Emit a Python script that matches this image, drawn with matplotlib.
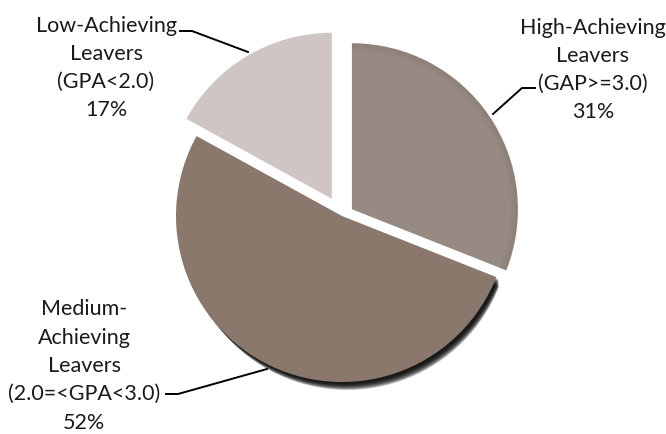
import matplotlib.pyplot as plt
from matplotlib.patches import Wedge

# data
names = ["High-Achieving\nLeavers\n(GAP>=3.0)",
         "Medium-\nAchieving\nLeavers\n(2.0=<GPA<3.0)",
         "Low-Achieving\nLeavers\n(GPA<2.0)"]
shares = [31, 52, 17]
colors = ["#978a82", "#8a786c", "#cfc6c4"]

W, H = 666, 435
cx, cy, R = 342, H - 217, 166
# pie() adds explode in data units, so these are pixels here
explode = [12, 0, 20]

fig = plt.figure(figsize=(W / 100, H / 100), dpi=100)
ax = fig.add_axes([0, 0, 1, 1])

wedges, _ = ax.pie(shares, colors=colors, explode=explode, startangle=90,
                   counterclock=False, center=(cx, cy), radius=R,
                   wedgeprops=dict(linewidth=0))

# soft shadow under the medium slice
med = wedges[1]
for i in range(12):
    sh = Wedge((med.center[0] + 2 + i * 0.3, med.center[1] - 2 - i * 0.8),
               med.r - i * 0.25, med.theta1, med.theta2, facecolor="black",
               alpha=0.17, linewidth=0, zorder=0.5)
    ax.add_patch(sh)

# darker inner rim on the high slice
hi = wedges[0]
for i in range(8):
    rim = Wedge(hi.center, hi.r - i * 0.9, hi.theta1, hi.theta2,
                width=1.3, facecolor="#4a3f3a", alpha=0.09 * (8 - i) / 8,
                linewidth=0, zorder=3)
    ax.add_patch(rim)

font = dict(family="Lato", fontsize=15.5, color="#1a1a1a", ha="center",
            va="center", linespacing=1.52)

# labels: name + percent
pos = [(106, 68), (593, 70), (84, 366)]
pos = [pos[1], pos[2], pos[0]]
for name, s, (x, y) in zip(names, shares, pos):
    ax.text(x, H - y, f"{name}\n{s}%", **font)

# leader lines
leaders = [
    [(535, 89), (522, 89), (493, 115)],
    [(166, 395), (178, 395), (267, 370)],
    [(180, 32), (192, 32), (248, 53)],
]
for pts in leaders:
    xs = [p[0] for p in pts]
    ys = [H - p[1] for p in pts]
    ax.plot(xs, ys, color="black", linewidth=1.4, zorder=4)

ax.set_xlim(0, W)
ax.set_ylim(0, H)
ax.set_aspect("equal")
ax.axis("off")

fig.savefig("out.png", dpi=100)
